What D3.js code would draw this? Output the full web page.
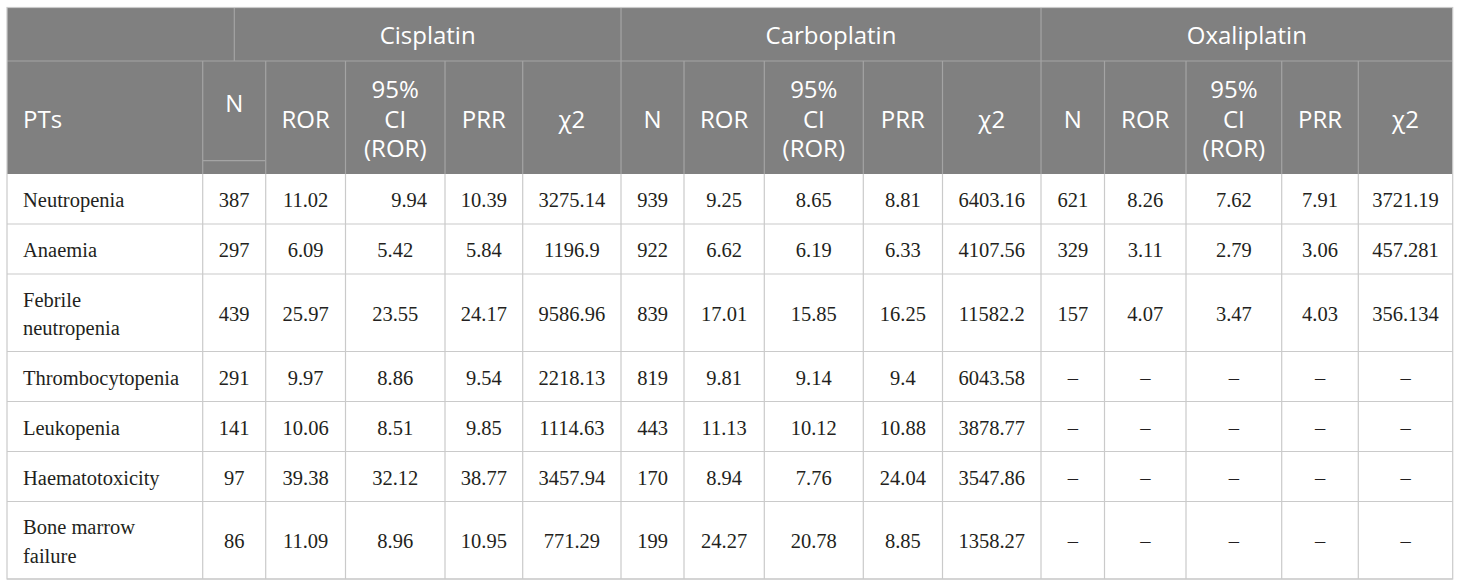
<!DOCTYPE html>
<html>
<head>
<meta charset="utf-8">
<script src="https://cdn.jsdelivr.net/npm/d3@7"></script>
<style>
  html, body { margin: 0; padding: 0; background: #fff; }
  svg { display: block; }
  .head text { font-family: "Open Sans", sans-serif; font-size: 24px; fill: #fff; }
  .body text { font-family: "Liberation Serif", "Times New Roman", serif; font-size: 20.5px; fill: #231f20; }
</style>
</head>
<body>
<svg id="chart" width="1460" height="588"></svg>
<script>
// ---- data ----
const pts = ["Neutropenia", "Anaemia", "Febrile\nneutropenia", "Thrombocytopenia", "Leukopenia", "Haematotoxicity", "Bone marrow\nfailure"];
const drugs = ["Cisplatin", "Carboplatin", "Oxaliplatin"];
const measures = ["N", "ROR", "95%\nCI\n(ROR)", "PRR", "χ2"];

const cisplatin = [
  [387, 11.02, 9.94, 10.39, 3275.14],
  [297, 6.09, 5.42, 5.84, 1196.9],
  [439, 25.97, 23.55, 24.17, 9586.96],
  [291, 9.97, 8.86, 9.54, 2218.13],
  [141, 10.06, 8.51, 9.85, 1114.63],
  [97, 39.38, 32.12, 38.77, 3457.94],
  [86, 11.09, 8.96, 10.95, 771.29]
];
const carboplatin = [
  [939, 9.25, 8.65, 8.81, 6403.16],
  [922, 6.62, 6.19, 6.33, 4107.56],
  [839, 17.01, 15.85, 16.25, 11582.2],
  [819, 9.81, 9.14, 9.4, 6043.58],
  [443, 11.13, 10.12, 10.88, 3878.77],
  [170, 8.94, 7.76, 24.04, 3547.86],
  [199, 24.27, 20.78, 8.85, 1358.27]
];
const oxaliplatin = [
  [621, 8.26, 7.62, 7.91, 3721.19],
  [329, 3.11, 2.79, 3.06, 457.281],
  [157, 4.07, 3.47, 4.03, 356.134],
  [null, null, null, null, null],
  [null, null, null, null, null],
  [null, null, null, null, null],
  [null, null, null, null, null]
];
const values = { Cisplatin: cisplatin, Carboplatin: carboplatin, Oxaliplatin: oxaliplatin };

// ---- layout ----
const colEdges = [7, 202.7, 265.7, 345.5, 445, 522.7, 621, 684, 764.3, 863.3, 942.5, 1041, 1104.5, 1186, 1281.7, 1358.3, 1452.7];
const tableTop = 7.5;
const head1H = 53.5, head2H = 113;
const rowBase = 50, lineH = 27.5;
const groupStart = 234.3;   // first group header starts inside the N column
const pad = 16;
const headFill = "#808080", headLine = "#a4a4a4", bodyLine = "#cacaca";

const colKeys = ["PTs", ...drugs.flatMap(d => measures.map(m => `${d}|${m}`))];
const xL = d3.scaleOrdinal(colKeys, colEdges.slice(0, -1));
const xR = d3.scaleOrdinal(colKeys, colEdges.slice(1));
const xC = k => (xL(k) + xR(k)) / 2;

const nLines = s => s.split("\n").length;
const rowH = pts.map(p => rowBase + lineH * (nLines(p) - 1));
const bodyTop = tableTop + head1H + head2H;
const rowTops = rowH.map((h, i) => bodyTop + d3.sum(rowH.slice(0, i)));
const y = d3.scaleOrdinal(pts, rowTops);
const h = d3.scaleOrdinal(pts, rowH);
const tableBottom = bodyTop + d3.sum(rowH);
const left = colEdges[0], right = colEdges[colEdges.length - 1];

const svg = d3.select("#chart");

// ---- header ----
const head = svg.append("g").attr("class", "head");
head.append("rect")
  .attr("x", left).attr("y", tableTop)
  .attr("width", right - left).attr("height", head1H + head2H)
  .attr("fill", headFill);

const groups = drugs.map((d, i) => ({
  key: d,
  x0: i === 0 ? groupStart : xL(`${d}|N`),
  x1: xR(`${d}|χ2`)
}));

// header lines
const hl = head.append("g").attr("stroke", headLine).attr("stroke-width", 1.2);
hl.append("line")
  .attr("x1", left).attr("x2", right)
  .attr("y1", tableTop + head1H).attr("y2", tableTop + head1H);
hl.selectAll("line.g").data(groups.map(g => g.x0)).join("line").attr("class", "g")
  .attr("x1", d => d).attr("x2", d => d)
  .attr("y1", tableTop).attr("y2", tableTop + head1H);
hl.selectAll("line.c").data(colKeys.slice(1)).join("line").attr("class", "c")
  .attr("x1", d => xL(d)).attr("x2", d => xL(d))
  .attr("y1", tableTop + head1H).attr("y2", bodyTop);
// small split line under the first N header
hl.append("line")
  .attr("x1", xL("Cisplatin|N")).attr("x2", xR("Cisplatin|N"))
  .attr("y1", bodyTop - 13.3).attr("y2", bodyTop - 13.3);

head.selectAll("text.group").data(groups).join("text").attr("class", "group")
  .attr("text-anchor", "middle")
  .attr("x", d => (d.x0 + d.x1) / 2)
  .attr("y", tableTop + head1H / 2 + 10)
  .text(d => d.key);

const head2Mid = tableTop + head1H + head2H / 2;
const headCells = drugs.flatMap(d => measures.map(m => ({ key: `${d}|${m}`, label: m, drug: d })));

head.append("text")
  .attr("x", left + pad).attr("y", head2Mid + 10)
  .text("PTs");

head.selectAll("text.m").data(headCells).join("text").attr("class", "m")
  .attr("text-anchor", "middle")
  .each(function (d) {
    const lines = d.label.split("\n");
    const shift = (d.drug === "Cisplatin" && d.label === "N") ? -15.6 : 0;
    d3.select(this).selectAll("tspan").data(lines).join("tspan")
      .attr("x", xC(d.key))
      .attr("y", (l, i) => head2Mid + 10 + shift + (i - (lines.length - 1) / 2) * 29.7)
      .text(l => l);
  });

// ---- body ----
const body = svg.append("g").attr("class", "body");
const bl = body.append("g").attr("stroke", bodyLine).attr("stroke-width", 1.2);
bl.selectAll("line.r").data(pts).join("line").attr("class", "r")
  .attr("x1", left).attr("x2", right)
  .attr("y1", d => y(d) + h(d)).attr("y2", d => y(d) + h(d));
bl.selectAll("line.c").data(colKeys.slice(1)).join("line").attr("class", "c")
  .attr("x1", d => xL(d)).attr("x2", d => xL(d))
  .attr("y1", bodyTop).attr("y2", tableBottom);
// outer border
svg.append("rect")
  .attr("x", left).attr("y", tableTop)
  .attr("width", right - left).attr("height", tableBottom - tableTop)
  .attr("fill", "none").attr("stroke", bodyLine).attr("stroke-width", 1.2);

// row labels
body.selectAll("text.pt").data(pts).join("text").attr("class", "pt")
  .each(function (p) {
    const lines = p.split("\n");
    const mid = y(p) + h(p) / 2;
    d3.select(this).selectAll("tspan").data(lines).join("tspan")
      .attr("x", left + pad)
      .attr("y", (l, i) => mid + 8 + (i - (lines.length - 1) / 2) * 28.5)
      .text(l => l);
  });

// value cells
const rightAligned = new Set(["Neutropenia|Cisplatin|95%\nCI\n(ROR)"]);
const cells = pts.flatMap((p, r) => drugs.flatMap(d => measures.map((m, j) => ({
  pt: p, key: `${d}|${m}`, id: `${p}|${d}|${m}`, v: values[d][r][j]
}))));

body.selectAll("text.v").data(cells).join("text").attr("class", "v")
  .attr("text-anchor", d => rightAligned.has(d.id) ? "end" : "middle")
  .attr("x", d => rightAligned.has(d.id) ? xR(d.key) - 18 : xC(d.key))
  .attr("y", d => y(d.pt) + h(d.pt) / 2 + 8)
  .text(d => d.v == null ? "–" : String(d.v));
</script>
</body>
</html>
